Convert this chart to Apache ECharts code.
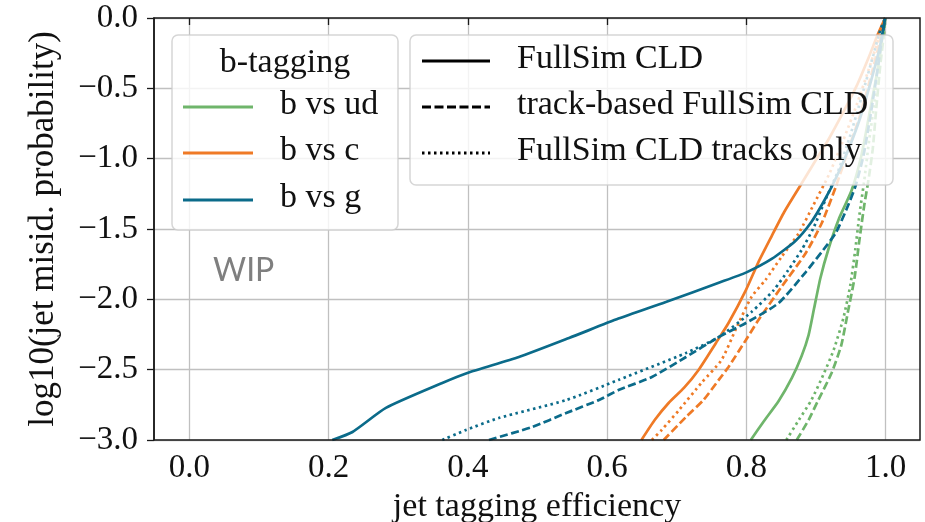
<!DOCTYPE html>
<html>
<head>
<meta charset="utf-8">
<script src="https://cdn.jsdelivr.net/npm/echarts@6/dist/echarts.min.js"></script>
<style>html,body{margin:0;padding:0;background:#fff;}#c{width:925px;height:522px;}</style>
</head>
<body>
<div id="c"></div>
<script>
// ---- data (efficiency, log10 misid) ----
const udFull_x = [0.807,0.825,0.847,0.866,0.880,0.890,0.898,0.907,0.919,0.934,0.952,0.966,0.977,0.989,1.0];
const udFull_y = [-3.0,-2.872,-2.723,-2.559,-2.403,-2.254,-2.062,-1.848,-1.635,-1.422,-1.223,-0.974,-0.690,-0.370,0];
const udTrk_x = [0.873,0.890,0.904,0.923,0.937,0.947,0.956,0.963,0.970,0.976,0.982,0.987,0.993,0.998,1.0];
const udTrk_y = [-3.0,-2.858,-2.716,-2.524,-2.325,-2.076,-1.848,-1.578,-1.329,-1.152,-0.938,-0.654,-0.334,-0.121,0];
const udTrkOnly_x = [0.858,0.876,0.894,0.911,0.926,0.940,0.950,0.957,0.963,0.970,0.977,0.985,0.990,1.0];
const udTrkOnly_y = [-3.0,-2.858,-2.716,-2.538,-2.360,-2.133,-1.898,-1.649,-1.400,-1.152,-0.867,-0.583,-0.299,0];

const cFull_x = [0.650,0.669,0.689,0.711,0.732,0.757,0.775,0.800,0.818,0.837,0.855,0.876,0.897,0.919,0.940,0.959,0.976,0.989,1.0];
const cFull_y = [-3.0,-2.858,-2.737,-2.630,-2.502,-2.310,-2.168,-1.934,-1.735,-1.550,-1.379,-1.208,-1.038,-0.860,-0.668,-0.483,-0.284,-0.121,0];
const cTrk_x = [0.682,0.714,0.739,0.761,0.775,0.800,0.818,0.851,0.886,0.909,0.929,0.947,0.964,0.980,0.992,1.0];
const cTrk_y = [-3.0,-2.836,-2.716,-2.573,-2.481,-2.289,-2.147,-1.912,-1.671,-1.457,-1.201,-0.938,-0.690,-0.405,-0.171,0];
const cTrkOnly_x = [0.665,0.679,0.704,0.736,0.765,0.785,0.808,0.828,0.851,0.876,0.897,0.919,0.940,0.959,0.976,0.990,1.0];
const cTrkOnly_y = [-3.0,-2.929,-2.787,-2.595,-2.431,-2.218,-1.983,-1.863,-1.699,-1.528,-1.329,-1.116,-0.867,-0.618,-0.370,-0.156,0];

const gFull_x = [0.206,0.235,0.283,0.364,0.400,0.474,0.546,0.617,0.685,0.761,0.800,0.837,0.871,0.894,0.913,0.930,0.947,0.964,0.980,0.992,1.0];
const gFull_y = [-3.0,-2.943,-2.772,-2.595,-2.524,-2.410,-2.275,-2.137,-2.019,-1.882,-1.810,-1.713,-1.585,-1.450,-1.294,-1.130,-0.938,-0.711,-0.441,-0.213,0];
const gTrk_x = [0.431,0.493,0.542,0.589,0.617,0.665,0.714,0.761,0.800,0.847,0.886,0.911,0.929,0.944,0.957,0.969,0.979,0.989,0.996,1.0];
const gTrk_y = [-3.0,-2.908,-2.808,-2.716,-2.645,-2.552,-2.410,-2.268,-2.168,-2.026,-1.806,-1.649,-1.528,-1.365,-1.201,-0.974,-0.690,-0.370,-0.121,0];
const gTrkOnly_x = [0.364,0.398,0.445,0.542,0.617,0.714,0.761,0.808,0.840,0.861,0.880,0.897,0.914,0.933,0.950,0.967,0.983,0.993,1.0];
const gTrkOnly_y = [-3.0,-2.929,-2.844,-2.716,-2.573,-2.381,-2.268,-2.090,-1.934,-1.791,-1.649,-1.493,-1.294,-1.081,-0.832,-0.547,-0.263,-0.085,0];

const classes = ['b vs ud','b vs c','b vs g'];
const classColors = ['#6fb56b','#ef7a26','#0b6b8a'];
const variants = ['FullSim CLD','track-based FullSim CLD','FullSim CLD tracks only'];
const xTicks = [0.0,0.2,0.4,0.6,0.8,1.0];
const yTicks = [-3.0,-2.5,-2.0,-1.5,-1.0,-0.5,0.0];

// ---- build ----
const curves = [
  [[udFull_x,udFull_y],[udTrk_x,udTrk_y],[udTrkOnly_x,udTrkOnly_y]],
  [[cFull_x,cFull_y],[cTrk_x,cTrk_y],[cTrkOnly_x,cTrkOnly_y]],
  [[gFull_x,gFull_y],[gTrk_x,gTrk_y],[gTrkOnly_x,gTrkOnly_y]]
];
const dashTypes = ['solid',[8,3.5],[2.5,3.5]];
const series = [];
curves.forEach((cls, ci) => {
  cls.forEach((xy, vi) => {
    series.push({
      type:'line', name: classes[ci] + ' - ' + variants[vi],
      xAxisIndex:0, yAxisIndex:0,
      data: xy[0].map((x,i)=>[x, xy[1][i]]),
      showSymbol:false, symbol:'none', smooth:0.2, clip:true,
      lineStyle:{color:classColors[ci], width:2.7, type:dashTypes[vi]},
      z: 3
    });
  });
});

const serif = '"Liberation Serif", "DejaVu Serif", serif';
const fmt = v => (v < 0 ? '\u2212' : '') + Math.abs(v).toFixed(1);
const G = {left:154, top:18, right:5, bottom:82};

const graphics = [];
// plot frame
graphics.push({type:'rect', shape:{x:154,y:18,width:766,height:422}, style:{fill:'none', stroke:'#1a1a1a', lineWidth:1.5}, z:50, silent:true});
// WIP
graphics.push({type:'text', x:213, y:271, style:{text:'WIP', font:'32px Lato, "Open Sans", sans-serif', fill:'#7f7f7f', verticalAlign:'middle', align:'left'}, z:60});
// legend 1
graphics.push({type:'rect', shape:{x:172,y:35,width:226,height:195,r:6}, style:{fill:'rgba(255,255,255,0.8)', stroke:'rgba(204,204,204,0.8)', lineWidth:1.5}, z:100});
graphics.push({type:'text', x:285, y:63, style:{text:'b-tagging', font:'34px '+serif, fill:'#111', align:'center', verticalAlign:'middle'}, z:101});
const l1y = [107,153,200];
classes.forEach((c,i)=>{
  graphics.push({type:'line', shape:{x1:183,y1:l1y[i],x2:253,y2:l1y[i]}, style:{stroke:classColors[i], lineWidth:2.8}, z:101});
  graphics.push({type:'text', x:280, y:l1y[i]-2, style:{text:c, font:'34px '+serif, fill:'#111', align:'left', verticalAlign:'middle'}, z:101});
});
// legend 2
graphics.push({type:'rect', shape:{x:410,y:35,width:483,height:150,r:6}, style:{fill:'rgba(255,255,255,0.8)', stroke:'rgba(204,204,204,0.8)', lineWidth:1.5}, z:100});
const l2y = [61,107,153];
variants.forEach((v,i)=>{
  graphics.push({type:'line', shape:{x1:422,y1:l2y[i],x2:490,y2:l2y[i]}, style:{stroke:'#000', lineWidth:2.8, lineDash: i===0?null:(i===1?[9,3.5]:[2.5,3.5])}, z:101});
  graphics.push({type:'text', x:517, y:l2y[i]-2, style:{text:v, font:'34px '+serif, fill:'#111', align:'left', verticalAlign:'middle'}, z:101});
});

const option = {
  animation:false,
  backgroundColor:'#fff',
  grid:[
    {left:G.left, top:G.top, right:G.right, bottom:G.bottom, show:false, containLabel:false, outerBoundsMode:'none'},
    {left:189.3, top:G.top, right:39.3, bottom:G.bottom, show:false, containLabel:false, outerBoundsMode:'none'}
  ],
  xAxis:[
    {type:'value', gridIndex:0, min:-0.05, max:1.05,
     axisLine:{show:false}, axisTick:{show:false}, axisLabel:{show:false}, splitLine:{show:false},
     name:'jet tagging efficiency', nameLocation:'middle', nameGap:50,
     nameTextStyle:{fontFamily:serif, fontSize:34, color:'#111'}},
    {type:'value', gridIndex:1, min:xTicks[0], max:xTicks[xTicks.length-1], interval:0.2,
     axisLine:{show:false},
     axisTick:{show:true, inside:false, length:7, lineStyle:{color:'#1a1a1a', width:1.3}},
     axisLabel:{fontFamily:serif, fontSize:33, color:'#111', margin:12, formatter:fmt},
     splitLine:{show:true, lineStyle:{color:'#c0c0c0', width:1.3}}}
  ],
  yAxis:[
    {type:'value', gridIndex:0, min:yTicks[0], max:yTicks[yTicks.length-1], interval:0.5,
     axisLine:{show:true, onZero:false, lineStyle:{color:'#1a1a1a', width:1.5}},
     axisTick:{show:true, inside:false, length:7, lineStyle:{color:'#1a1a1a', width:1.3}},
     axisLabel:{fontFamily:serif, fontSize:33, color:'#111', margin:16, formatter:fmt},
     splitLine:{show:true, lineStyle:{color:'#c0c0c0', width:1.3}},
     name:'log10(jet misid. probability)', nameLocation:'middle', nameGap:93, nameRotate:90,
     nameTextStyle:{fontFamily:serif, fontSize:35, color:'#111'}},
    {type:'value', gridIndex:1, min:-3, max:0, show:false}
  ],
  graphic:{elements:graphics},
  series: series
};
echarts.init(document.getElementById('c'), null, {renderer:'canvas'}).setOption(option);
</script>
</body>
</html>
